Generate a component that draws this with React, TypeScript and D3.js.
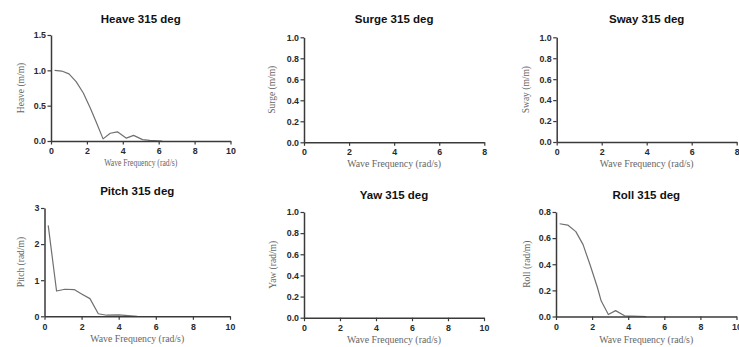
import React, { useEffect, useRef } from 'react';
import * as d3 from 'd3';

// Response amplitude operators at 315 deg heading
const heaveFreq = [0.2, 0.6, 1.0, 1.4, 1.8, 2.2, 2.5, 2.9, 3.3, 3.7, 4.2, 4.6, 5.1, 5.5, 6.2];
const heaveAmp = [1.0, 0.99, 0.95, 0.84, 0.68, 0.46, 0.28, 0.03, 0.11, 0.13, 0.04, 0.08, 0.02, 0.01, 0.0];

const surgeFreq: number[] = [];
const surgeAmp: number[] = [];

const swayFreq: number[] = [];
const swayAmp: number[] = [];

const pitchFreq = [0.2, 0.65, 1.1, 1.6, 2.0, 2.45, 2.9, 3.35, 4.0, 5.0];
const pitchAmp = [2.52, 0.7, 0.75, 0.74, 0.62, 0.49, 0.07, 0.03, 0.04, 0.0];

const yawFreq: number[] = [];
const yawAmp: number[] = [];

const rollFreq = [0.2, 0.65, 1.1, 1.5, 1.9, 2.3, 2.5, 2.9, 3.3, 3.8, 5.0];
const rollAmp = [0.71, 0.7, 0.65, 0.55, 0.39, 0.22, 0.12, 0.015, 0.045, 0.005, 0.0];

// Tick values
const heaveTicks = [0, 0.5, 1.0, 1.5];
const unitTicks = [0, 0.2, 0.4, 0.6, 0.8, 1.0];
const pitchTicks = [0, 1, 2, 3];
const rollTicks = [0, 0.2, 0.4, 0.6, 0.8];
const freqTicks10 = [0, 2, 4, 6, 8, 10];
const freqTicks8 = [0, 2, 4, 6, 8];

const xTitle = 'Wave Frequency (rad/s)';

type Panel = {
  title: string;
  yLabel: string;
  freq: number[];
  amp: number[];
  xTicks: number[];
  yTicks: number[];
  yFormat: string;
  left: number;
  right: number;
  top: number;
  bottom: number;
  titleY: number;
  yLabelOffset: number;
  xTickPad: number;
  xLabelY: number;
  xLabelLength?: number;
};

const panels: Panel[] = [
  {
    title: 'Heave 315 deg', yLabel: 'Heave (m/m)', freq: heaveFreq, amp: heaveAmp,
    xTicks: freqTicks10, yTicks: heaveTicks, yFormat: '.1f',
    left: 51, right: 230.5, top: 35, bottom: 141,
    titleY: 23, yLabelOffset: 30, xTickPad: 3.3, xLabelY: 166, xLabelLength: 73,
  },
  {
    title: 'Surge 315 deg', yLabel: 'Surge (m/m)', freq: surgeFreq, amp: surgeAmp,
    xTicks: freqTicks8, yTicks: unitTicks, yFormat: '.1f',
    left: 304, right: 484.3, top: 37.3, bottom: 142.3,
    titleY: 23.3, yLabelOffset: 32, xTickPad: 3, xLabelY: 166.7,
  },
  {
    title: 'Sway 315 deg', yLabel: 'Sway (m/m)', freq: swayFreq, amp: swayAmp,
    xTicks: freqTicks8, yTicks: unitTicks, yFormat: '.1f',
    left: 556.7, right: 736.7, top: 37.3, bottom: 142,
    titleY: 23.3, yLabelOffset: 31, xTickPad: 3, xLabelY: 166.7,
  },
  {
    title: 'Pitch 315 deg', yLabel: 'Pitch (rad/m)', freq: pitchFreq, amp: pitchAmp,
    xTicks: freqTicks10, yTicks: pitchTicks, yFormat: 'd',
    left: 44.5, right: 230, top: 208, bottom: 316.3,
    titleY: 194.7, yLabelOffset: 24, xTickPad: 4, xLabelY: 341.5,
  },
  {
    title: 'Yaw 315 deg', yLabel: 'Yaw (rad/m)', freq: yawFreq, amp: yawAmp,
    xTicks: freqTicks10, yTicks: unitTicks, yFormat: '.1f',
    left: 304, right: 484, top: 212, bottom: 317.7,
    titleY: 198.7, yLabelOffset: 31, xTickPad: 4, xLabelY: 343,
  },
  {
    title: 'Roll 315 deg', yLabel: 'Roll (rad/m)', freq: rollFreq, amp: rollAmp,
    xTicks: freqTicks10, yTicks: rollTicks, yFormat: '.1f',
    left: 556, right: 736.5, top: 212, bottom: 316.5,
    titleY: 199.3, yLabelOffset: 29, xTickPad: 4, xLabelY: 343,
  },
];

const axisColor = '#3a3a3a';
const lineColor = '#707070';

export default function App() {
  const ref = useRef<SVGSVGElement | null>(null);

  useEffect(() => {
    const svg = d3.select(ref.current);
    svg.selectAll('*').remove();

    panels.forEach((p) => {
      const g = svg.append('g');
      const x = d3.scaleLinear()
        .domain([0, p.xTicks[p.xTicks.length - 1]])
        .range([p.left, p.right]);
      const y = d3.scaleLinear()
        .domain([0, p.yTicks[p.yTicks.length - 1]])
        .range([p.bottom, p.top]);

      // data line
      if (p.freq.length) {
        const pts = p.freq.map((f, i) => [f, p.amp[i]] as [number, number]);
        const line = d3.line<[number, number]>().x((d) => x(d[0])).y((d) => y(d[1]));
        g.append('path')
          .attr('d', line(pts) || '')
          .attr('fill', 'none')
          .attr('stroke', lineColor)
          .attr('stroke-width', 1.2)
          .attr('stroke-linejoin', 'round');
      }

      // axes
      const xAxis = d3.axisBottom(x)
        .tickValues(p.xTicks)
        .tickFormat(d3.format('d') as any)
        .tickSize(3.5)
        .tickSizeOuter(0)
        .tickPadding(p.xTickPad);
      const yAxis = d3.axisLeft(y)
        .tickValues(p.yTicks)
        .tickFormat(d3.format(p.yFormat) as any)
        .tickSize(3.5)
        .tickSizeOuter(0)
        .tickPadding(1.5);

      const gx = g.append('g').attr('transform', `translate(0,${p.bottom})`).call(xAxis);
      const gy = g.append('g').attr('transform', `translate(${p.left},0)`).call(yAxis);

      [gx, gy].forEach((ax) => {
        ax.attr('font-size', null).attr('font-family', null);
        ax.select('.domain').attr('stroke', axisColor).attr('stroke-width', 1.5);
        ax.selectAll('.tick line').attr('stroke', axisColor).attr('stroke-width', 1.2);
        ax.selectAll('.tick text')
          .attr('fill', '#2a2a2a')
          .style('font-family', '"Liberation Sans", Arial, sans-serif')
          .style('font-weight', 'bold')
          .style('font-size', '8.8px');
      });

      // title
      g.append('text')
        .attr('x', (p.left + p.right) / 2)
        .attr('y', p.titleY)
        .attr('text-anchor', 'middle')
        .attr('fill', '#111')
        .style('font-family', '"Liberation Sans", Arial, sans-serif')
        .style('font-weight', 'bold')
        .style('font-size', '11.5px')
        .text(p.title);

      // x axis title
      const xt = g.append('text')
        .attr('x', (p.left + p.right) / 2)
        .attr('y', p.xLabelY)
        .attr('text-anchor', 'middle')
        .attr('fill', '#666')
        .style('font-family', '"Liberation Serif", "Times New Roman", serif')
        .style('font-size', '9.8px')
        .text(xTitle);
      if (p.xLabelLength) {
        xt.attr('textLength', p.xLabelLength).attr('lengthAdjust', 'spacingAndGlyphs');
      }

      // y axis title
      const cy = (p.top + p.bottom) / 2;
      const cx = p.left - p.yLabelOffset;
      g.append('text')
        .attr('transform', `translate(${cx},${cy}) rotate(-90)`)
        .attr('text-anchor', 'middle')
        .attr('dy', '0.35em')
        .attr('fill', '#666')
        .style('font-family', '"Liberation Serif", "Times New Roman", serif')
        .style('font-size', '9.5px')
        .text(p.yLabel);
    });
  }, []);

  return (
    <svg
      ref={ref}
      width={739}
      height={347}
      style={{ position: 'absolute', left: 0, top: 0, background: '#fff' }}
    />
  );
}
